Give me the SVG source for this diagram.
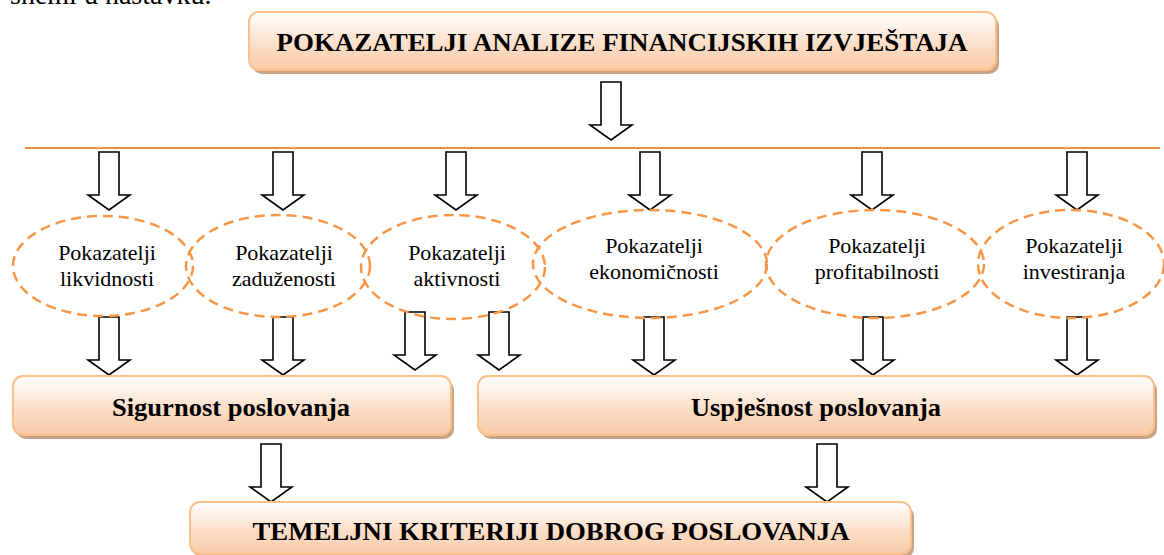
<svg xmlns="http://www.w3.org/2000/svg" width="1164" height="555" viewBox="0 0 1164 555">
<defs>
<linearGradient id="boxg" x1="0" y1="0" x2="0" y2="1">
<stop offset="0" stop-color="#ffffff"/>
<stop offset="0.6" stop-color="#fbdcc4"/>
<stop offset="1" stop-color="#f8caa6"/>
</linearGradient>
<style>
.box{fill:url(#boxg);stroke:#f9bf8c;stroke-width:2}
.shadow{fill:#c9a386}
.ell{fill:none;stroke:#f79646;stroke-width:2.5;stroke-dasharray:10 6}
.arr{fill:#ffffff;stroke:#000000;stroke-width:1.6;stroke-linejoin:miter}
.bt{font-family:"Liberation Serif","Times New Roman",serif;font-weight:bold;fill:#000;text-anchor:middle}
.et{font-family:"Liberation Serif","Times New Roman",serif;font-size:22px;fill:#000;text-anchor:middle}
.hline{stroke:#e46c0a;stroke-width:1.6}
</style>
</defs>
<rect width="1164" height="555" fill="#ffffff"/>
<text x="10" y="4" font-family="Liberation Serif, serif" font-size="28" fill="#000">shemi u nastavku.</text>

<g id="top">
<rect class="shadow" x="252" y="16" width="747" height="58" rx="10"/>
<rect class="box" x="249" y="12" width="747" height="58" rx="10"/>
<text class="bt" x="622" y="51" font-size="25" textLength="691" lengthAdjust="spacingAndGlyphs">POKAZATELJI ANALIZE FINANCIJSKIH IZVJEŠTAJA</text>
</g>

<g id="connectors">
<line class="hline" x1="25" y1="148" x2="1160" y2="148"/>
<path class="arr" d="M601,82 H621 V125 H632 L611,140 L590,125 H601 Z"/>
<path class="arr" d="M99,152 H119 V195 H130 L109,210 L88,195 H99 Z"/>
<path class="arr" d="M273,152 H293 V195 H304 L283,210 L262,195 H273 Z"/>
<path class="arr" d="M446,152 H466 V195 H477 L456,210 L435,195 H446 Z"/>
<path class="arr" d="M640,152 H660 V195 H671 L650,210 L629,195 H640 Z"/>
<path class="arr" d="M862,152 H882 V195 H893 L872,210 L851,195 H862 Z"/>
<path class="arr" d="M1067,152 H1087 V195 H1098 L1077,210 L1056,195 H1067 Z"/>
<path class="arr" d="M99,317 H119 V360 H130 L109,375 L88,360 H99 Z"/>
<path class="arr" d="M273,317 H293 V360 H304 L283,375 L262,360 H273 Z"/>
<path class="arr" d="M405,312 H425 V355 H436 L415,370 L394,355 H405 Z"/>
<path class="arr" d="M489,312 H509 V355 H520 L499,370 L478,355 H489 Z"/>
<path class="arr" d="M644,317 H664 V360 H675 L654,375 L633,360 H644 Z"/>
<path class="arr" d="M863,317 H883 V360 H894 L873,375 L852,360 H863 Z"/>
<path class="arr" d="M1067,317 H1087 V360 H1098 L1077,375 L1056,360 H1067 Z"/>
<path class="arr" d="M261,444 H281 V487 H292 L271,502 L250,487 H261 Z"/>
<path class="arr" d="M817,444 H837 V487 H848 L827,502 L806,487 H817 Z"/>
</g>

<g id="e1">
<ellipse class="ell" cx="103" cy="266" rx="90" ry="50"/>
<text class="et" x="107" y="260">Pokazatelji</text>
<text class="et" x="107" y="286">likvidnosti</text>
</g>
<g id="e2">
<ellipse class="ell" cx="278" cy="266" rx="92" ry="51"/>
<text class="et" x="284" y="260">Pokazatelji</text>
<text class="et" x="284" y="286">zaduženosti</text>
</g>
<g id="e3">
<ellipse class="ell" cx="453" cy="267" rx="92" ry="52"/>
<text class="et" x="457" y="260">Pokazatelji</text>
<text class="et" x="457" y="286">aktivnosti</text>
</g>
<g id="e4">
<ellipse class="ell" cx="650" cy="264" rx="117" ry="54"/>
<text class="et" x="654" y="253">Pokazatelji</text>
<text class="et" x="654" y="279">ekonomičnosti</text>
</g>
<g id="e5">
<ellipse class="ell" cx="875" cy="264" rx="109" ry="54"/>
<text class="et" x="877" y="253">Pokazatelji</text>
<text class="et" x="877" y="279">profitabilnosti</text>
</g>
<g id="e6">
<ellipse class="ell" cx="1071" cy="264" rx="93" ry="54"/>
<text class="et" x="1074" y="253">Pokazatelji</text>
<text class="et" x="1074" y="279">investiranja</text>
</g>

<g id="sigurnost">
<rect class="shadow" x="16" y="380" width="438" height="59" rx="10"/>
<rect class="box" x="13" y="376" width="438" height="59" rx="10"/>
<text class="bt" x="231" y="416" font-size="25" textLength="238" lengthAdjust="spacingAndGlyphs">Sigurnost poslovanja</text>
</g>
<g id="uspjesnost">
<rect class="shadow" x="481" y="380" width="676" height="59" rx="10"/>
<rect class="box" x="478" y="376" width="676" height="59" rx="10"/>
<text class="bt" x="816" y="416" font-size="25" textLength="250" lengthAdjust="spacingAndGlyphs">Uspješnost poslovanja</text>
</g>
<g id="temeljni">
<rect class="shadow" x="193" y="506" width="721" height="52" rx="10"/>
<rect class="box" x="190" y="502" width="721" height="52" rx="10"/>
<text class="bt" x="551" y="540" font-size="25" textLength="597" lengthAdjust="spacingAndGlyphs">TEMELJNI KRITERIJI DOBROG POSLOVANJA</text>
</g>
</svg>
